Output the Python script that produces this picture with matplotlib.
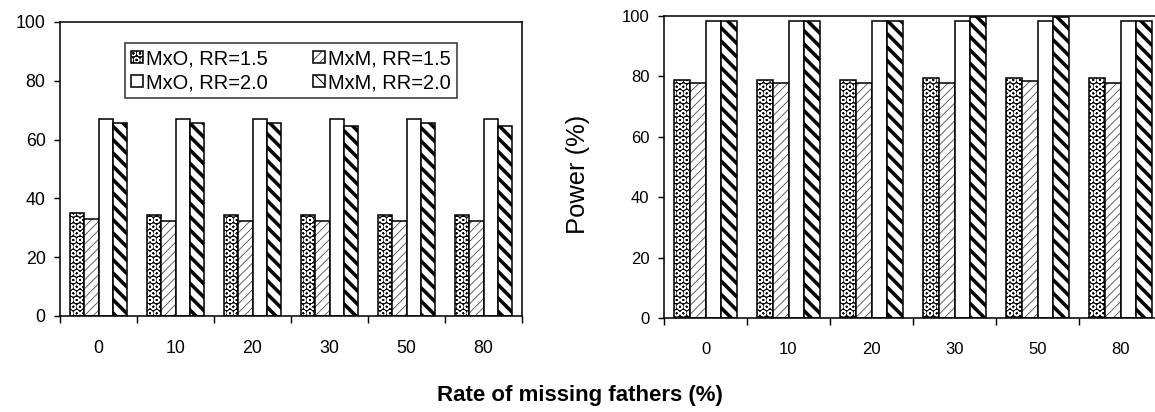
import matplotlib
matplotlib.use('Agg')
import matplotlib.pyplot as plt
import numpy as np

# rate of missing fathers (%)
groups = ['0', '10', '20', '30', '50', '80']
series_names = ['MxO, RR=1.5', 'MxM, RR=1.5', 'MxO, RR=2.0', 'MxM, RR=2.0']

# left panel
left_mxo_15 = [34.9, 34.3, 34.3, 34.3, 34.3, 34.3]
left_mxm_15 = [32.9, 32.3, 32.3, 32.3, 32.3, 32.3]
left_mxo_20 = [66.9, 66.9, 66.9, 66.9, 66.9, 66.9]
left_mxm_20 = [65.5, 65.5, 65.5, 64.6, 65.5, 64.7]

# right panel
right_mxo_15 = [78.8, 78.8, 78.8, 79.4, 79.4, 79.4]
right_mxm_15 = [77.7, 77.7, 77.7, 77.7, 78.5, 77.7]
right_mxo_20 = [98.4, 98.4, 98.4, 98.4, 98.4, 98.4]
right_mxm_20 = [98.4, 98.4, 98.4, 99.8, 99.8, 98.4]

yticks = [0, 20, 40, 60, 80, 100]

plt.rcParams['font.family'] = ['Liberation Sans', 'DejaVu Sans']

DPI = 80
W, H = 1155, 412

# fill colour, hatch, hatch colour, hatch linewidth
styles = [
    ('black', 'OO', 'white', 1.3),
    ('white', '///', '#555555', 0.8),
    ('white', '', 'white', 1.0),
    ('white', '\\\\', 'black', 3.2),
]


def draw_bars(ax, data, tick_size):
    x = np.arange(len(groups))
    width = 0.1875
    handles = []
    for i, values in enumerate(data):
        face, hatch, hcolor, hlw = styles[i]
        pos = x - 0.375 + width * (i + 0.5)
        with plt.rc_context({'hatch.linewidth': hlw}):
            fill = ax.bar(pos, values, width, color=face, edgecolor=hcolor,
                          hatch=hatch, linewidth=0)
            for p in fill:
                if hasattr(p, 'set_hatch_linewidth'):
                    p.set_hatch_linewidth(hlw)
        edge = ax.bar(pos, values, width, fill=False, edgecolor='black',
                      linewidth=1.4)
        handles.append((fill, edge))

    ax.set_xlim(-0.5, len(groups) - 0.5)
    ax.set_ylim(0, 100)
    ax.set_yticks(yticks)
    ax.set_yticklabels([str(v) for v in yticks], fontsize=tick_size)
    ax.set_xticks(x)
    ax.set_xticklabels(groups, fontsize=tick_size)
    ax.set_xticks(np.arange(len(groups) + 1) - 0.5, minor=True)
    ax.tick_params(axis='x', which='major', length=0, pad=22)
    ax.tick_params(axis='x', which='minor', length=6, width=1.3, direction='out')
    ax.tick_params(axis='y', length=5, width=1.3, direction='out', pad=8)
    for s in ax.spines.values():
        s.set_linewidth(1.4)
    return handles


fig = plt.figure(figsize=(W / DPI, H / DPI), dpi=DPI)

ax1 = fig.add_axes([60 / W, (H - 316) / H, 462 / W, 294 / H])
h = draw_bars(ax1, [left_mxo_15, left_mxm_15, left_mxo_20, left_mxm_20], 16)
order = [0, 2, 1, 3]
leg = ax1.legend([h[i] for i in order], [series_names[i] for i in order],
                 ncol=2, loc='center', mode='expand',
                 bbox_to_anchor=(0.119, 0.718, 0.762, 0.234),
                 fontsize=18, frameon=True, fancybox=False,
                 handlelength=0.6, handleheight=0.6, handletextpad=0.15,
                 columnspacing=0.8, borderpad=0.3, labelspacing=0.25)
leg.get_frame().set_edgecolor('black')
leg.get_frame().set_linewidth(1.4)

ax2 = fig.add_axes([664 / W, (H - 318) / H, 498 / W, 302 / H])
draw_bars(ax2, [right_mxo_15, right_mxm_15, right_mxo_20, right_mxm_20], 15)
ax2.spines['right'].set_visible(False)

fig.text(578 / W, 1 - 174 / H, 'Power (%)', rotation=90, fontsize=23,
         ha='center', va='center')
fig.text(580 / W, 1 - 395 / H, 'Rate of missing fathers (%)', fontsize=20,
         fontweight='bold', ha='center', va='center')

fig.savefig('out.png', dpi=DPI)
